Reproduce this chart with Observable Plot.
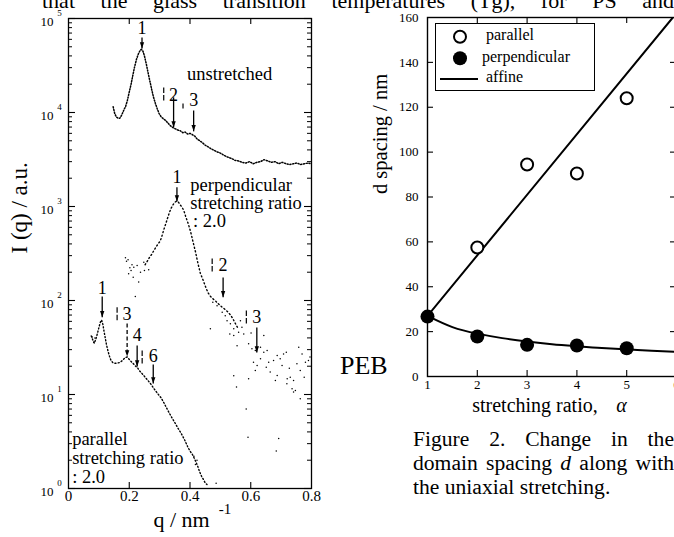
<!DOCTYPE html>
<html><head><meta charset="utf-8">
<script src="https://cdn.jsdelivr.net/npm/d3@7"></script>
<script src="https://cdn.jsdelivr.net/npm/@observablehq/plot@0.6"></script>
<style>
html,body{margin:0;padding:0;background:#fff;}
#page{position:relative;width:674px;height:537px;overflow:hidden;font-family:"Liberation Serif","Times New Roman",serif;color:#000;background:#fff;}
#page > div{position:absolute;}
#page svg{max-width:none !important;}
#topline{left:42px;top:-10.5px;width:632px;font-size:22px;line-height:22px;text-align:justify;text-align-last:justify;white-space:nowrap;}
#left{left:0;top:0;width:340px;height:537px;}
#right{left:360px;top:0;width:330px;height:537px;}
#peb{left:340px;top:353px;font-size:26px;line-height:26px;}
#caption{left:413px;top:427px;width:261px;font-size:21.6px;line-height:24px;text-align:justify;}
#legend{left:435px;top:23px;width:160px;height:68px;border:1.2px solid #000;box-sizing:border-box;background:#fff;}
#legend span{position:absolute;font-size:16px;line-height:20px;white-space:nowrap;}
#legend svg{position:absolute;left:-1px;top:-1px;}
</style></head>
<body><div id="page">
<div id="topline">that the glass transition temperatures (Tg), for PS and</div>
<div id="left"></div>
<div id="right"></div>
<div id="peb">PEB</div>
<div id="legend">
  <svg width="160" height="68">
    <circle cx="25" cy="13.7" r="6" fill="#fff" stroke="#000" stroke-width="2"/>
    <circle cx="25" cy="35.3" r="7" fill="#000"/>
    <line x1="5" x2="43" y1="56" y2="56" stroke="#000" stroke-width="2"/>
  </svg>
  <span style="left:50px;top:1px">parallel</span>
  <span style="left:46px;top:22.6px">perpendicular</span>
  <span style="left:50px;top:43.3px">affine</span>
</div>
<div id="caption">Figure 2. Change in the domain spacing <i>d</i> along with the uniaxial stretching.</div>
</div>
<script>
// ---------- Left chart data: I(q) vs q ----------
const unstQ = [0.147,0.152,0.157,0.163,0.169,0.176,0.182,0.188,0.194,0.200,0.206,0.212,0.218,0.224,0.230,0.236,0.240,0.245,0.250,0.256,0.262,0.268,0.274,0.280,0.286,0.292,0.298,0.305,0.312,0.320,0.328,0.336,0.344,0.352,0.360,0.368,0.376,0.384,0.392,0.400,0.408,0.416,0.424,0.432,0.440,0.450,0.460,0.470,0.480,0.490,0.500,0.512,0.524,0.536,0.548,0.560,0.572,0.584,0.596,0.608,0.620,0.632,0.644,0.656,0.668,0.680,0.692,0.704,0.716,0.728,0.740,0.752,0.764,0.776,0.788,0.800];
const unstI = [11500,9800,9000,8700,8700,9500,10600,11600,13500,16500,20000,25000,31000,37000,42000,46000,47000,45000,40000,33000,26500,21500,17500,14500,12500,11000,9800,9000,8600,8200,7700,7200,6900,6700,6500,6400,6100,6200,5900,6000,5800,5600,5200,5000,4800,4500,4300,4100,3950,3800,3700,3500,3350,3250,3100,3050,2950,2900,3000,2850,2950,3000,3150,3050,2950,3000,2850,2950,2850,2800,2850,2900,2800,2850,2900,2850];

const perpQ = [0.252,0.259,0.266,0.274,0.281,0.288,0.295,0.302,0.308,0.314,0.320,0.326,0.332,0.338,0.344,0.350,0.356,0.362,0.368,0.374,0.380,0.386,0.394,0.402,0.410,0.418,0.426,0.434,0.440,0.446,0.452,0.460,0.468,0.476,0.484,0.492,0.500,0.508,0.516,0.524,0.532,0.540,0.548,0.556];
const perpI = [240,260,285,310,340,370,400,430,490,570,650,750,860,960,1040,1110,1140,1110,1040,980,900,780,660,540,420,330,250,195,175,155,138,120,110,104,99,93,88,84,80,76,71,65,58,52];
const perpScatQ = [0.1875,0.191,0.196,0.198,0.202,0.206,0.209,0.213,0.215,0.220,0.226,0.231,0.237,0.248,0.250,0.264,0.475,0.489,0.506,0.516,0.522,0.533,0.544,0.531,0.544,0.560,0.571,0.577,0.566,0.601,0.643,0.467,0.555,0.593,0.604,0.615,0.632,0.643,0.654,0.609,0.621,0.615,0.651,0.664,0.675,0.687,0.697,0.708,0.717,0.703,0.687,0.681,0.730,0.719,0.741,0.747,0.736,0.758,0.769,0.780,0.790,0.763,0.776,0.763,0.752,0.632,0.659,0.553,0.593,0.585,0.591,0.692,0.684,0.544,0.741,0.720,0.795,0.727];
const perpScatI = [285,262,271,192,223,209,240,177,226,110,236,157,200,256,209,212,96,88,75,69,61,56.5,50,44,42.5,46,52,44,61,45,42.5,50,33,34.6,30.6,29.4,31.9,28.2,29.4,22,20.4,18,19.5,17.3,23,26,24,27,28.2,20.4,15.9,14.1,15.3,13,14.1,11,11.5,31.9,27,22,23,18,15.3,9,21.2,24,22,12,14.7,7.0,3.5,3.4,2.5,15.8,10.6,14.7,25,19];

const paraQ = [0.075,0.080,0.085,0.089,0.093,0.097,0.101,0.105,0.109,0.113,0.117,0.121,0.125,0.130,0.135,0.140,0.146,0.152,0.158,0.164,0.170,0.176,0.182,0.188,0.193,0.198,0.203,0.209,0.215,0.221,0.227,0.233,0.240,0.248,0.256,0.264,0.272,0.280,0.288,0.296,0.304,0.312,0.320,0.328,0.336,0.344,0.352,0.360,0.368,0.376,0.384,0.392,0.400,0.408,0.414,0.420,0.426,0.432,0.438,0.444,0.450,0.456];
const paraI = [42,38,35,38,42,47,53,59,62,56,47,40,34,29,25.5,23,21.8,21.5,21.5,21.7,22,22.8,23.8,24.8,25,24,23,22,21,20,19.3,18,17,15.9,14.8,13.8,12.8,11.7,10.8,10,9.3,8.4,7.5,6.7,6,5.4,4.9,4.4,4,3.6,3.2,2.8,2.5,2.3,2.1,1.9,1.7,1.5,1.35,1.25,1.15,1.1];
const paraScatQ = [0.078,0.083,0.087,0.413,0.418,0.423,0.486];
const paraScatI = [41,36,40,2.2,1.8,2.0,1.14];

const decades = [1,10,100,1000,10000,100000];
const decadeExp = ["0","1","2","3","4","5"];
const minorMult = [2,3,4,5,6,7,8,9];
const qTicks = [0,0.2,0.4,0.6,0.8];
const qTickLabels = ["0","0.2","0.4","0.6","0.8"];

// peak markers (unstretched 1,2,3; perpendicular 1,2,3; parallel 1,3,4,6)
const peakLabels = ["1","2","3","1","2","3","1","3","4","6"];
const peakQ = [0.242,0.346,0.412,0.357,0.509,0.620,0.111,0.193,0.226,0.279];
const peakLabelI = [78300,15200,13400,2050,236,66.4,136,71,42.4,25.4];
const arrowFromI = [62800,14500,10500,1600,176,51.6,110,57,33.2,20.9];
const arrowToI = [48000,6930,6300,1130,108,28,66.4,25.4,19.9,13.1];
const arrowDashed = [false,false,false,false,false,false,false,true,false,false];
// broken-bar separators before the peak numbers
const sepQ = [0.3135,0.377,0.473,0.5855,0.160,0.2425];
const sepTopI = [18450,12470,280,78.3,84.9,29.4];
const sepBotI = [13400,11030,199,56.9,58.8,21.4];

const descText = ["unstretched","perpendicular","stretching ratio",": 2.0","parallel","stretching ratio",": 2.0"];
const descQ = [0.390,0.401,0.401,0.410,0.012,0.012,0.012];
const descI = [25500,1700,1090,705,3.35,2.1,1.32];

// ---------- Right chart data: d spacing vs alpha ----------
const alphaPara = [2,3,4,5];
const dPara = [57.5,94.5,90.5,124];
const alphaPerp = [1,2,3,4,5];
const dPerp = [26.7,17.8,14.1,13.8,12.6];
const affParaAlpha = [1,6];
const affParaD = [27,162];
const affPerpAlpha = [1,1.5,2,2.5,3,3.5,4,4.5,5,5.5,6];
const affPerpD = [27,22,19.1,17.1,15.6,14.4,13.5,12.7,12.1,11.5,11.0];
const dTicks = [0,20,40,60,80,100,120,140,160];
const alphaTicks = [1,2,3,4,5,6];

const FONT = '"Liberation Serif", "Times New Roman", serif';
const idx = n => d3.range(n);

// downward filled arrowhead with its tip at the point
const headDown = {draw(ctx, size){ const r = Math.sqrt(size/Math.PI); ctx.moveTo(0,0); ctx.lineTo(-r*0.9,-r*2.6); ctx.lineTo(r*0.9,-r*2.6); ctx.closePath(); }};

// ---------- Left plot ----------
const LW = 340, LH = 537, LML = 68, LMR = 29, LMT = 18, LMB = 49;
const lfw = LW - LML - LMR, lfh = LH - LMT - LMB;
const minorTicks = decades.slice(0,5).flatMap(d => minorMult.map(m => d*m));
const unst = idx(unstQ.length).map(i => ({q: unstQ[i], I: unstI[i]}));
const perp = idx(perpQ.length).map(i => ({q: perpQ[i], I: perpI[i]}));
const perpS = idx(perpScatQ.length).map(i => ({q: perpScatQ[i], I: perpScatI[i]}));
const para = idx(paraQ.length).map(i => ({q: paraQ[i], I: paraI[i]}));
const paraS = idx(paraScatQ.length).map(i => ({q: paraScatQ[i], I: paraScatI[i]}));
const solidA = idx(peakQ.length).filter(i => !arrowDashed[i]);
const dashA = idx(peakQ.length).filter(i => arrowDashed[i]);
const T = {fontFamily: FONT, fill: "#000"};

const left = Plot.plot({
  width: LW, height: LH,
  marginLeft: LML, marginRight: LMR, marginTop: LMT, marginBottom: LMB,
  style: {fontFamily: FONT, fontSize: "13px", color: "#000", background: "transparent", overflow: "visible", maxWidth: "none"},
  x: {domain: [0, 0.8], axis: null},
  y: {type: "log", domain: [1, 1e5], axis: null},
  marks: [
    // data
    Plot.line(unst, {x: "q", y: "I", stroke: "#000", strokeWidth: 1.5, strokeDasharray: "1.1,1.7"}),
    Plot.line(perp, {x: "q", y: "I", stroke: "#000", strokeWidth: 1.4, strokeDasharray: "1.1,2.6"}),
    Plot.dot(perpS, {x: "q", y: "I", r: 0.75, fill: "#000"}),
    Plot.line(para, {x: "q", y: "I", stroke: "#000", strokeWidth: 1.4, strokeDasharray: "1.1,2.2"}),
    Plot.dot(paraS, {x: "q", y: "I", r: 0.75, fill: "#000"}),
    // frame & ticks
    Plot.frame({stroke: "#000", strokeWidth: 1.3}),
    Plot.tickY(decades, {y: d => d, insetRight: lfw - 7, stroke: "#000", strokeWidth: 1.1}),
    Plot.tickY(decades, {y: d => d, insetLeft: lfw - 7, stroke: "#000", strokeWidth: 1.1}),
    Plot.tickY(minorTicks, {y: d => d, insetRight: lfw - 4, stroke: "#000", strokeWidth: 1}),
    Plot.tickY(minorTicks, {y: d => d, insetLeft: lfw - 4, stroke: "#000", strokeWidth: 1}),
    Plot.tickX(qTicks.slice(1, 4), {x: d => d, insetBottom: lfh - 6, stroke: "#000", strokeWidth: 1.1}),
    Plot.tickX(qTicks.slice(1, 4), {x: d => d, insetTop: lfh - 6, stroke: "#000", strokeWidth: 1.1}),
    // tick labels
    Plot.text(decades, {...T, frameAnchor: "left", y: d => d, text: () => "10", dx: -15, dy: 3, textAnchor: "end", fontSize: 13}),
    Plot.text(decades, {...T, frameAnchor: "left", y: d => d, text: (d, i) => decadeExp[i], dx: -9, dy: -5, textAnchor: "middle", fontSize: 9}),
    Plot.text(qTicks, {...T, x: d => d, frameAnchor: "bottom", text: (d, i) => qTickLabels[i], dy: 12, fontSize: 15}),
    // axis titles
    Plot.text(["I (q) / a.u."], {...T, frameAnchor: "left", text: d => d, dx: -49, rotate: -90, fontSize: 23}),
    Plot.text(["q / nm"], {...T, x: () => 0.372, frameAnchor: "bottom", text: d => d, dy: 38, fontSize: 22}),
    Plot.text(["-1"], {...T, x: () => 0.515, frameAnchor: "bottom", text: d => d, dy: 25, fontSize: 15}),
    // peak annotations
    Plot.link(solidA, {x1: i => peakQ[i], x2: i => peakQ[i], y1: i => arrowFromI[i], y2: i => arrowToI[i], stroke: "#000", strokeWidth: 1.3}),
    Plot.link(dashA, {x1: i => peakQ[i], x2: i => peakQ[i], y1: i => arrowFromI[i], y2: i => arrowToI[i], stroke: "#000", strokeWidth: 1.3, strokeDasharray: "4,2.5"}),
    Plot.dot(idx(peakQ.length), {x: i => peakQ[i], y: i => arrowToI[i], symbol: headDown, r: 2.4, fill: "#000", stroke: "none"}),
    Plot.link(idx(sepQ.length), {x1: i => sepQ[i], x2: i => sepQ[i], y1: i => sepTopI[i], y2: i => sepBotI[i], stroke: "#000", strokeWidth: 1.2, strokeDasharray: "5.5,2"}),
    Plot.text(idx(peakQ.length), {...T, x: i => peakQ[i], y: i => peakLabelI[i], text: i => peakLabels[i], fontSize: 18}),
    Plot.text(idx(descText.length), {...T, x: i => descQ[i], y: i => descI[i], text: i => descText[i], textAnchor: "start", fontSize: 18.5})
  ]
});
document.getElementById("left").appendChild(left);

// ---------- Right plot ----------
const RW = 330, RH = 537, RML = 67, RMR = 14, RMT = 17, RMB = 161;
const rfw = RW - RML - RMR, rfh = RH - RMT - RMB;
const paraPts = idx(alphaPara.length).map(i => ({a: alphaPara[i], d: dPara[i]}));
const perpPts = idx(alphaPerp.length).map(i => ({a: alphaPerp[i], d: dPerp[i]}));
const affPara = idx(affParaAlpha.length).map(i => ({a: affParaAlpha[i], d: affParaD[i]}));
const affPerp = idx(affPerpAlpha.length).map(i => ({a: affPerpAlpha[i], d: affPerpD[i]}));

const right = Plot.plot({
  width: RW, height: RH,
  marginLeft: RML, marginRight: RMR, marginTop: RMT, marginBottom: RMB,
  style: {fontFamily: FONT, fontSize: "13px", color: "#000", background: "transparent", overflow: "visible", maxWidth: "none"},
  x: {domain: [1, 6], axis: null},
  y: {domain: [0, 160], axis: null},
  marks: [
    Plot.line(affPara, {x: "a", y: "d", stroke: "#000", strokeWidth: 2, clip: true}),
    Plot.line(affPerp, {x: "a", y: "d", stroke: "#000", strokeWidth: 2, curve: "natural", clip: true}),
    Plot.frame({stroke: "#000", strokeWidth: 1.4}),
    Plot.tickY(dTicks.slice(1, 8), {y: d => d, insetRight: rfw - 6, stroke: "#000", strokeWidth: 1.1}),
    Plot.tickY(dTicks.slice(1, 8), {y: d => d, insetLeft: rfw - 6, stroke: "#000", strokeWidth: 1.1}),
    Plot.tickX(alphaTicks.slice(1, 5), {x: d => d, insetBottom: rfh - 6, stroke: "#000", strokeWidth: 1.1}),
    Plot.tickX(alphaTicks.slice(1, 5), {x: d => d, insetTop: rfh - 6, stroke: "#000", strokeWidth: 1.1}),
    Plot.dot(paraPts, {x: "a", y: "d", r: 6, stroke: "#000", strokeWidth: 2, fill: "#fff"}),
    Plot.dot(perpPts, {x: "a", y: "d", r: 7, fill: "#000", stroke: "none"}),
    Plot.text(dTicks, {...T, frameAnchor: "left", y: d => d, text: d => String(d), dx: -9, textAnchor: "end", fontSize: 13}),
    Plot.text(alphaTicks, {...T, x: d => d, frameAnchor: "bottom", text: d => String(d), dy: 12, fontSize: 13}),
    Plot.text(["d spacing / nm"], {...T, frameAnchor: "left", text: d => d, dx: -47, dy: -3, rotate: -90, fontSize: 20.5}),
    Plot.text(["stretching ratio,"], {...T, x: () => 1.898, frameAnchor: "bottom", text: d => d, textAnchor: "start", dy: 35, fontSize: 20}),
    Plot.text(["α"], {...T, x: () => 4.896, frameAnchor: "bottom", text: d => d, dy: 35, fontSize: 20, fontStyle: "italic"})
  ]
});
document.getElementById("right").appendChild(right);
</script>
</body></html>
